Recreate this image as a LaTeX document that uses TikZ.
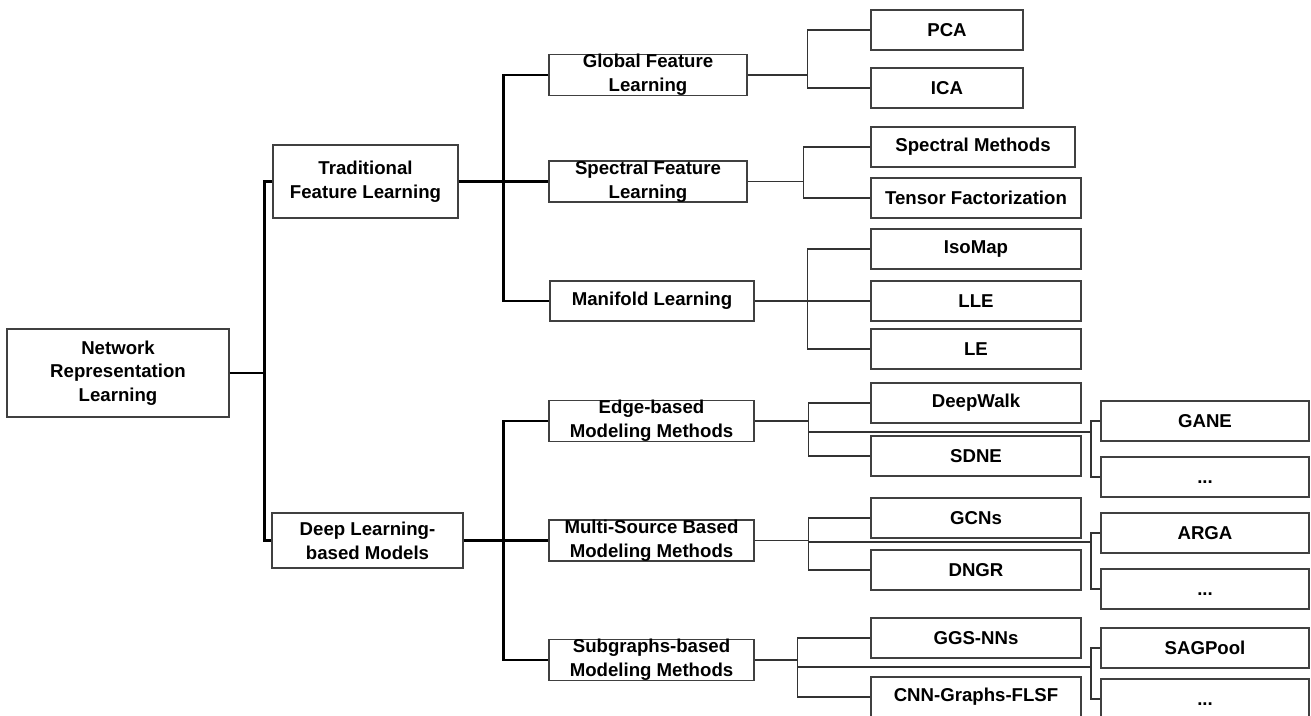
\documentclass[tikz,border=0pt]{standalone}
\usepackage{fontspec}
\setmainfont{Liberation Sans}
\usepackage{tikz}
\usetikzlibrary{calc, positioning}

\begin{document}
\begin{tikzpicture}[
		x=0.02cm, y=-0.02cm,
		bloc/.style={rectangle, draw=black!75, line width=0.8pt, fill=white, inner sep=0pt, align=center,
			font=\fontsize{10.6}{13.5}\selectfont\bfseries, minimum height=0.8cm},
		feuille/.style={bloc, minimum width=4.2cm},
		suite/.style={bloc, minimum width=4.16cm},
		tronc/.style={draw=black, line width=1.7pt},
		branche/.style={draw=black!80, line width=0.85pt}
		]
		\path[use as bounding box] (0,0) rectangle (1311,716);
		\clip (0,0) rectangle (1311,716);
		
		% Racine et premier niveau
		\node[bloc, minimum width=4.44cm, minimum height=1.76cm] (NRL) at (118,373) {Network\\Representation\\Learning};
		\node[bloc, minimum width=3.70cm, minimum height=1.46cm] (TFL) at (365.5,181.5) {Traditional\\Feature Learning};
		\node[bloc, minimum width=3.82cm, minimum height=1.10cm] (DLM) at (367.5,540.5) {Deep Learning-\\based Models};
		
		% Deuxieme niveau
		\node[bloc, minimum width=3.96cm] (GFL) at (648,75) {Global Feature\\Learning};
		\node[bloc, minimum width=3.96cm, minimum height=0.78cm] (SFL) at (648,181.5) {Spectral Feature\\Learning};
		\node[bloc, minimum width=4.08cm] (ML) at (652,301) {Manifold Learning};
		\node[bloc, minimum width=4.1cm] (EMM) at (651.5,421) {Edge-based\\Modeling Methods};
		\node[bloc, minimum width=4.1cm, minimum height=0.78cm] (MSM) at (651.5,540.5) {Multi-Source Based\\Modeling Methods};
		\node[bloc, minimum width=4.1cm] (SMM) at (651.5,660) {Subgraphs-based\\Modeling Methods};
		
		% Les methodes
		\node[bloc, minimum width=3.04cm] (PCA) at (947,30) {PCA};
		\node[bloc, minimum width=3.04cm] (ICA) at (947,88) {ICA};
		\node[bloc, minimum width=4.08cm] (SpM) at (973,147) {Spectral Methods};
		\node[feuille] (TF) at (976,198) {Tensor Factorization};
		\node[feuille] (Iso) at (976,249) {IsoMap};
		\node[feuille] (LLE) at (976,301) {LLE};
		\node[feuille] (LE) at (976,349) {LE};
		\node[feuille] (DW) at (976,403) {DeepWalk};
		\node[feuille] (SDNE) at (976,456) {SDNE};
		\node[feuille] (GCN) at (976,518) {GCNs};
		\node[feuille] (DNGR) at (976,570) {DNGR};
		\node[feuille] (GGS) at (976,638) {GGS-NNs};
		\node[feuille] (CNN) at (976,697) {CNN-Graphs-FLSF};
		
		\node[suite] (GANE) at (1205,421) {GANE};
		\node[suite] (dotsA) at (1205,477) {\vphantom{A}...};
		\node[suite] (ARGA) at (1205,533) {ARGA};
		\node[suite] (dotsB) at (1205,589) {\vphantom{A}...};
		\node[suite] (SAG) at (1205,648) {SAGPool};
		\node[suite] (dotsC) at (1205,699) {\vphantom{A}...};
		
		% Les liaisons epaisses
		\draw[tronc] (NRL.east) -- ++(35,0) coordinate (n0);
		\draw[tronc] (TFL.west) -| (n0) |- (DLM.west);
		\draw[tronc] (TFL.east) -- ++(45,0) coordinate (n1);
		\draw[tronc] (GFL.west) -| (n1) |- (ML.west);
		\draw[tronc] (n1) -- (SFL.west);
		\draw[tronc] (DLM.east) -- ++(40,0) coordinate (n2);
		\draw[tronc] (EMM.west) -| (n2) |- (SMM.west);
		\draw[tronc] (n2) -- (MSM.west);
		
		% Les liaisons fines
		\draw[branche] (GFL.east) -- ++(60,0) coordinate (g0);
		\draw[branche] (PCA.west) -| (g0) |- (ICA.west);
		\draw[branche] (SFL.east) -- ++(56,0) coordinate (s0);
		\draw[branche] (SpM.west) -| (s0) |- (TF.west);
		\draw[branche] (ML.east) -- ++(53,0) coordinate (m0);
		\draw[branche] (Iso.west) -| (m0) |- (LE.west);
		\draw[branche] (m0) -- (LLE.west);
		
		\draw[branche] (EMM.east) -- ++(54,0) coordinate (e0);
		\draw[branche] (DW.west) -| (e0) |- (SDNE.west);
		\coordinate (e1) at (1091,432);
		\draw[branche] (e0 |- e1) -- (e1);
		\draw[branche] (GANE.west) -| (e1) |- (dotsA.west);
		
		\draw[branche] (MSM.east) -- ++(54,0) coordinate (u0);
		\draw[branche] (GCN.west) -| (u0) |- (DNGR.west);
		\coordinate (u1) at (1091,542);
		\draw[branche] (u0 |- u1) -- (u1);
		\draw[branche] (ARGA.west) -| (u1) |- (dotsB.west);
		
		\draw[branche] (SMM.east) -- ++(43,0) coordinate (k0);
		\draw[branche] (GGS.west) -| (k0) |- (CNN.west);
		\coordinate (k1) at (1091,667);
		\draw[branche] (k0 |- k1) -- (k1);
		\draw[branche] (SAG.west) -| (k1) |- (dotsC.west);
	\end{tikzpicture}
\end{document}
